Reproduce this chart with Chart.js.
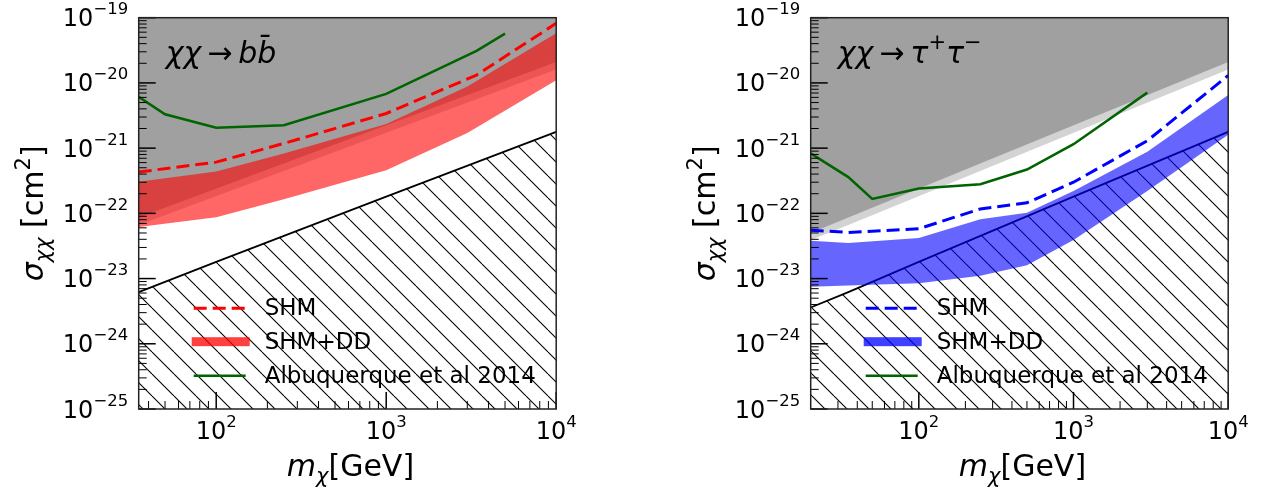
<!DOCTYPE html>
<html>
<head>
<meta charset="utf-8">
<script src="https://cdn.jsdelivr.net/npm/chart.js@4.4.0/dist/chart.umd.min.js"></script>
<style>
  html, body { margin: 0; padding: 0; background: #fff; }
  .panel { position: absolute; top: 0; }
</style>
</head>
<body>
<div class="panel" style="left:0"><canvas id="bb" width="672" height="491"></canvas></div>
<div class="panel" style="left:672px"><canvas id="tau" width="594" height="491"></canvas></div>
<script>
// axis ranges and tick labels
const yRange = [1e-25, 1e-19];
const bbRange = [35, 1e4];
const tauRange = [20, 1e4];
const yTickExponents = [-25, -24, -23, -22, -21, -20, -19];
const xTickExponents = [2, 3, 4];

// chi chi -> b bbar
const bbMassAlb = [35, 50, 100, 250, 1000, 3400, 5000];
const bbSigmaAlb = [6.1e-21, 3.3e-21, 2.05e-21, 2.25e-21, 6.8e-21, 3.1e-20, 5.7e-20];
const bbMassShm = [35, 100, 250, 1000, 3400, 10000];
const bbSigmaShm = [4.3e-22, 6.1e-22, 1.18e-21, 3.4e-21, 1.32e-20, 8.2e-20];
const bbMassBand = [35, 100, 250, 1000, 3000, 10000];
const bbBandHigh = [3.05e-22, 4.4e-22, 8.3e-22, 2.35e-21, 8.8e-21, 5.8e-20];
const bbBandLow = [6.2e-23, 8.7e-23, 1.64e-22, 4.6e-22, 1.7e-21, 1.1e-20];

// chi chi -> tau+ tau-
const tauMassAlb = [20, 35, 50, 100, 250, 500, 1000, 3000];
const tauSigmaAlb = [8.3e-22, 3.6e-22, 1.66e-22, 2.4e-22, 2.8e-22, 4.7e-22, 1.15e-21, 7.1e-21];
const tauMassShm = [20, 35, 100, 250, 500, 1000, 3000, 10000];
const tauSigmaShm = [5.5e-23, 5.1e-23, 5.8e-23, 1.17e-22, 1.45e-22, 3.0e-22, 1.3e-21, 1.3e-20];
const tauMassBand = [20, 35, 100, 250, 500, 1000, 3000, 10000];
const tauBandHigh = [3.8e-23, 3.5e-23, 4.2e-23, 8.1e-23, 1.02e-22, 2.2e-22, 8.8e-22, 6.5e-21];
const tauBandLow = [7.5e-24, 7.8e-24, 8.5e-24, 1.1e-23, 1.6e-23, 3.9e-23, 2.2e-22, 1.6e-21];

// excluded regions, shared by both panels
const limitMass = [20, 35, 10000];
const limitDark = [5e-23, 8.6e-23, 2.1e-20];
const limitLight = [3.9e-23, 6.6e-23, 1.6e-20];
const unitarityMass = [20, 35, 100, 1000, 10000];
const unitaritySigma = [3.6e-24, 6.2e-24, 1.8e-23, 1.8e-22, 1.78e-21];

const FONT = '"DejaVu Sans", sans-serif';
const font = (size, italic) => (italic ? 'italic ' : '') + size + 'px ' + FONT;
const pts = (xs, ys) => xs.map((x, i) => ({ x, y: ys[i] }));

function hatchPattern(step, shift) {
  const c = document.createElement('canvas');
  c.width = step; c.height = step;
  const g = c.getContext('2d');
  g.strokeStyle = '#000';
  g.lineWidth = 1.1;
  for (const k of [-1, 0, 1]) {
    g.beginPath();
    g.moveTo(k * step, 0);
    g.lineTo(k * step + step, step);
    g.stroke();
  }
  const p = g.createPattern(c, 'repeat');
  p.setTransform(new DOMMatrix([1, 0, 0, 1, shift, 0]));
  return p;
}

function drawRich(ctx, parts, x, y, align) {
  let w = 0;
  parts.forEach(p => { ctx.font = p.font; p.w = ctx.measureText(p.t).width; w += p.w; });
  let cx = align === 'center' ? x - w / 2 : align === 'right' ? x - w : x;
  parts.forEach(p => {
    ctx.font = p.font;
    ctx.fillText(p.t, cx, y + (p.dy || 0));
    cx += p.w;
  });
}

function framePlugin(cfg) {
  return {
    id: 'frame',
    afterDatasetsDraw(chart) {
      const { ctx, chartArea: a, scales: { x, y } } = chart;
      ctx.save();
      ctx.fillStyle = '#000';
      ctx.textAlign = 'left';
      ctx.textBaseline = 'alphabetic';

      // ticks, pointing inwards
      const tick = (px, len, lw, vertical) => {
        ctx.lineWidth = lw;
        ctx.strokeStyle = '#000';
        ctx.beginPath();
        if (vertical) { ctx.moveTo(px, a.bottom); ctx.lineTo(px, a.bottom - len); }
        else { ctx.moveTo(a.left, px); ctx.lineTo(a.left + len, px); }
        ctx.stroke();
      };
      for (let e = -25; e < -19; e++) {
        for (let k = 2; k <= 9; k++) tick(y.getPixelForValue(k * Math.pow(10, e)), 8, 1, false);
      }
      const x0 = Math.floor(Math.log10(cfg.xMin));
      for (let e = x0; e < 4; e++) {
        for (let k = 2; k <= 9; k++) {
          const v = k * Math.pow(10, e);
          if (v > cfg.xMin && v < 1e4) tick(x.getPixelForValue(v), 8, 1, true);
        }
      }
      yTickExponents.forEach(e => {
        const py = y.getPixelForValue(Math.pow(10, e));
        tick(py, 17, 1.5, false);
        drawRich(ctx, [
          { t: '10', font: font(24) },
          { t: '\u2212' + Math.abs(e), font: font(16.5), dy: -12 }
        ], a.left - 10.5, py + 8.5, 'right');
      });
      xTickExponents.forEach(e => {
        const px = x.getPixelForValue(Math.pow(10, e));
        tick(px, 17, 1.5, true);
        drawRich(ctx, [
          { t: '10', font: font(24) },
          { t: String(e), font: font(16.5), dy: -12 }
        ], px, a.bottom + 30, 'center');
      });

      // frame
      ctx.strokeStyle = '#222';
      ctx.lineWidth = 1.5;
      ctx.strokeRect(a.left, a.top, a.right - a.left, a.bottom - a.top);

      // axis titles
      drawRich(ctx, [
        { t: 'm', font: font(30, true) },
        { t: '\u03c7', font: font(21, true), dy: 7 },
        { t: '[GeV]', font: font(30) }
      ], (a.left + a.right) / 2 + 3, a.bottom + 67, 'center');
      ctx.save();
      ctx.translate(a.left - 96, (a.top + a.bottom) / 2);
      ctx.rotate(-Math.PI / 2);
      drawRich(ctx, [
        { t: '\u03c3', font: font(30, true) },
        { t: '\u03c7\u03c7', font: font(21, true), dy: 7 },
        { t: ' [cm', font: font(30) },
        { t: '2', font: font(21), dy: -13 },
        { t: ']', font: font(30) }
      ], 0, 0, 'center');
      ctx.restore();

      // process label
      drawRich(ctx, cfg.label, a.left + 27, a.top + 45, 'left');

      // legend
      const lx = a.left + 55, lw = 52, tx = a.left + 126;
      const rows = [a.top + 290.5, a.top + 324, a.top + 358];
      ctx.lineCap = 'butt';
      ctx.strokeStyle = cfg.color;
      ctx.lineWidth = 3;
      ctx.setLineDash([13, 6]);
      ctx.beginPath(); ctx.moveTo(lx, rows[0]); ctx.lineTo(lx + lw, rows[0]); ctx.stroke();
      ctx.setLineDash([]);
      ctx.fillStyle = cfg.legendBar;
      ctx.fillRect(lx - 2, rows[1] - 4.5, lw + 6, 9);
      ctx.strokeStyle = '#006400';
      ctx.lineWidth = 2.5;
      ctx.beginPath(); ctx.moveTo(lx, rows[2]); ctx.lineTo(lx + lw, rows[2]); ctx.stroke();
      ctx.fillStyle = '#000';
      ctx.font = font(23);
      ctx.textBaseline = 'middle';
      ['SHM', 'SHM+DD', 'Albuquerque et al 2014'].forEach((t, i) => ctx.fillText(t, tx, rows[i] + 1));
      ctx.restore();
    }
  };
}

function makeChart(id, cfg) {
  const canvas = document.getElementById(id);
  const offset = canvas.parentElement.offsetLeft;
  const hatchShift = (((20 - offset) % 22) + 22) % 22;
  const clear = 'rgba(0,0,0,0)';
  return new Chart(canvas, {
    type: 'line',
    data: {
      datasets: [
        { data: pts(limitMass, limitLight), fill: 'end', backgroundColor: '#d3d3d3', borderColor: clear, borderWidth: 0, order: 6 },
        { data: pts(limitMass, limitDark), fill: 'end', backgroundColor: '#a0a0a0', borderColor: clear, borderWidth: 0, order: 5 },
        { data: pts(unitarityMass, unitaritySigma), fill: 'start', backgroundColor: hatchPattern(22, hatchShift), borderColor: '#000', borderWidth: 1.8, order: 4 },
        { data: pts(cfg.bandMass, cfg.bandHigh), fill: '+1', backgroundColor: cfg.bandColor, borderColor: clear, borderWidth: 0, order: 3 },
        { data: pts(cfg.bandMass, cfg.bandLow), fill: false, borderColor: clear, borderWidth: 0, order: 3 },
        { data: pts(cfg.shmMass, cfg.shmSigma), fill: false, borderColor: cfg.color, borderWidth: 3, borderDash: [13, 6], order: 2 },
        { data: pts(cfg.albMass, cfg.albSigma), fill: false, borderColor: '#006400', borderWidth: 2.5, order: 1 }
      ]
    },
    options: {
      responsive: false,
      animation: false,
      events: [],
      layout: { padding: { left: 138.7, right: canvas.width - 138.7 - 417.5, top: 17.7, bottom: 82 } },
      elements: { point: { radius: 0 }, line: { tension: 0 } },
      plugins: { legend: { display: false }, tooltip: { enabled: false } },
      scales: {
        x: { type: 'logarithmic', min: cfg.xMin, max: 1e4, display: false },
        y: { type: 'logarithmic', min: yRange[0], max: yRange[1], display: false }
      }
    },
    plugins: [framePlugin(cfg)]
  });
}

makeChart('bb', {
  xMin: bbRange[0],
  color: '#ff0000',
  bandColor: 'rgba(255,0,0,0.6)',
  legendBar: 'rgba(255,0,0,0.75)',
  albMass: bbMassAlb, albSigma: bbSigmaAlb,
  shmMass: bbMassShm, shmSigma: bbSigmaShm,
  bandMass: bbMassBand, bandHigh: bbBandHigh, bandLow: bbBandLow,
  label: [
    { t: '\u03c7\u03c7', font: font(30, true) },
    { t: '\u2009\u2192\u2009', font: font(30) },
    { t: 'b', font: font(30, true) },
    { t: 'b\u0304', font: font(30, true) }
  ]
});

makeChart('tau', {
  xMin: tauRange[0],
  color: '#0000ff',
  bandColor: 'rgba(0,0,255,0.6)',
  legendBar: 'rgba(0,0,255,0.75)',
  albMass: tauMassAlb, albSigma: tauSigmaAlb,
  shmMass: tauMassShm, shmSigma: tauSigmaShm,
  bandMass: tauMassBand, bandHigh: tauBandHigh, bandLow: tauBandLow,
  label: [
    { t: '\u03c7\u03c7', font: font(30, true) },
    { t: '\u2009\u2192\u2009', font: font(30) },
    { t: '\u03c4', font: font(30, true) },
    { t: '+', font: font(21), dy: -14 },
    { t: '\u03c4', font: font(30, true) },
    { t: '\u2212', font: font(21), dy: -14 }
  ]
});
</script>
</body>
</html>
